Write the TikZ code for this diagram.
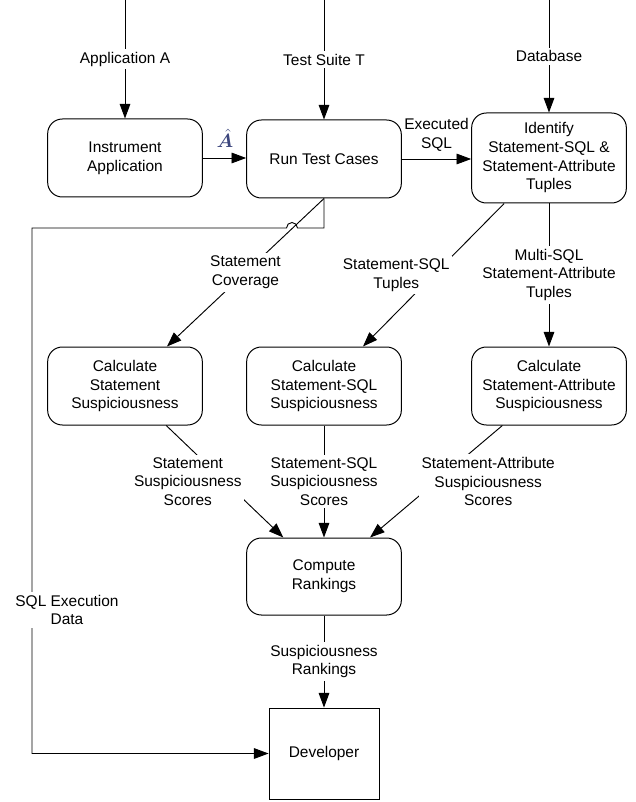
\documentclass[tikz,border=0pt]{standalone}
\usepackage{fontspec}
\usepackage{bm}
\setmainfont{Liberation Sans}
\usetikzlibrary{arrows.meta}
\definecolor{hatblue}{RGB}{60,70,125}

\begin{document}
\begin{tikzpicture}[x=0.75pt, y=-0.75pt,
        every node/.style={font=\fontsize{11.6}{14}\selectfont, align=center},
        proc/.style={draw, line width=0.75pt, rounded corners=11pt, minimum width=116pt, minimum height=58.5pt, inner sep=0pt},
        lbl/.style={fill=white, inner sep=2pt},
        flow/.style={line width=0.7pt, -{Triangle[length=11pt, width=8pt]}}]
    \useasboundingbox (0,0) rectangle (635,802);

    % Входы сверху
    \coordinate (appin) at (125,0);
    \coordinate (suitein) at (324,0);
    \coordinate (dbin) at (549,0);

    % Блоки
    \node[proc] (instr) at (125,158) {Instrument\\Application};
    \node[proc] (run) at (324,159) {Run Test Cases};
    \node[proc, minimum height=67.5pt] (ident) at (549,158) {Identify\\Statement-SQL \&\\Statement-Attribute\\Tuples};
    \node[proc] (calcst) at (125,386) {Calculate\\Statement\\Suspiciousness};
    \node[proc] (calcsql) at (324,386) {Calculate\\Statement-SQL\\Suspiciousness};
    \node[proc] (calcattr) at (549,386) {Calculate\\Statement-Attribute\\Suspiciousness};
    \node[proc, minimum height=57.75pt] (rank) at (324,576.5) {Compute\\Rankings};
    \node[draw, line width=0.65pt, minimum width=82.5pt, minimum height=68.25pt] (dev) at (324,753.5) {Developer};

    % Верхний ряд
    \draw[flow] (appin) -- node[lbl] (appa) {Application A} (instr);
    \draw[flow] (suitein) -- node[lbl] (suitet) {Test Suite T} (run);
    \draw[flow] (dbin) -- node[lbl] (dblbl) {Database} (ident);
    \draw[flow] (instr) -- (instr -| run.west);
    \node[text=hatblue, font=\fontsize{15}{15}\selectfont, inner sep=0pt] (ahat) at (225,138) {$\bm{\hat{A}}$};
    \draw[flow] (run) -- node[above=2pt] (execsql) {Executed\\SQL} (run -| ident.west);

    % Средний ряд
    \draw[flow] (run.south) -- node[lbl] (covlbl) {Statement\\Coverage} (calcst);
    \draw[flow] (ident) -- node[lbl, xshift=-28pt] (sqltup) {Statement-SQL\\Tuples} (calcsql);
    \draw[flow] (ident) -- node[lbl] (attrtup) {Multi-SQL\\Statement-Attribute\\Tuples} (calcattr);

    % Нижний ряд
    \draw[flow] (calcst) -- node[lbl, xshift=-27.75pt] (stscore) {Statement\\Suspiciousness\\Scores} (rank);
    \draw[flow] (calcsql) -- node[lbl] (sqlscore) {Statement-SQL\\Suspiciousness\\Scores} (rank);
    \draw[flow] (calcattr) -- node[lbl, xshift=39pt] (attrscore) {Statement-Attribute\\Suspiciousness\\Scores} (rank);
    \draw[flow] (rank) -- node[lbl] (ranklbl) {Suspiciousness\\Rankings} (dev);

    % Данные выполнения SQL
    \coordinate (hopr) at (297.5,228);
    \coordinate (corner) at (32,228);
    \draw[flow] (run.south) |- (hopr) arc[start angle=0, end angle=-180, radius=5.5]
        -- (corner) |- (dev.west);
    \node[lbl] (sqlexec) at (67,610) {SQL Execution\\Data};
\end{tikzpicture}
\end{document}
